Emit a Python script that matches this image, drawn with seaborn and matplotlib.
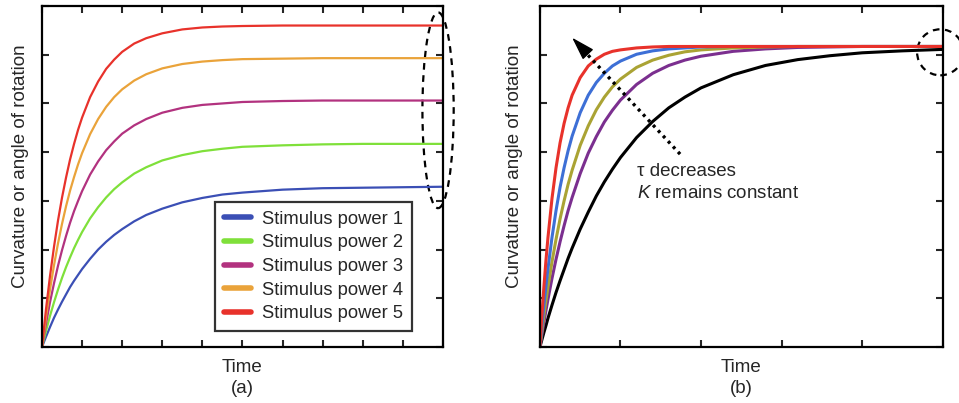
import matplotlib
matplotlib.use("Agg")
import matplotlib.pyplot as plt
from matplotlib.patches import Ellipse
import seaborn as sns

# ---- panel (a): curves for five stimulus powers ----
time_a = [0, 0.1, 0.2, 0.3, 0.4, 0.5, 0.6, 0.7, 0.8, 0.9, 1.0, 1.2, 1.4, 1.6, 1.8, 2.0,
          2.3, 2.6, 3.0, 3.5, 4.0, 4.5, 5.0, 6.0, 7.0, 8.0, 9.0, 10.0]
power_1 = [0, 0.21, 0.41, 0.60, 0.77, 0.93, 1.08, 1.23, 1.36, 1.48, 1.60, 1.81, 2.00, 2.16, 2.30, 2.42,
           2.58, 2.71, 2.84, 2.97, 3.06, 3.13, 3.17, 3.23, 3.26, 3.27, 3.28, 3.29]
power_2 = [0, 0.33, 0.64, 0.92, 1.18, 1.42, 1.64, 1.84, 2.03, 2.20, 2.36, 2.64, 2.87, 3.07, 3.24, 3.38,
           3.56, 3.69, 3.83, 3.94, 4.02, 4.07, 4.11, 4.14, 4.16, 4.17, 4.17, 4.17]
power_3 = [0, 0.48, 0.92, 1.31, 1.67, 1.99, 2.28, 2.55, 2.79, 3.00, 3.20, 3.54, 3.81, 4.04, 4.22, 4.38,
           4.55, 4.68, 4.81, 4.91, 4.97, 5.00, 5.03, 5.05, 5.06, 5.06, 5.06, 5.06]
power_4 = [0, 0.62, 1.18, 1.68, 2.13, 2.53, 2.89, 3.21, 3.49, 3.75, 3.98, 4.37, 4.68, 4.93, 5.13, 5.29,
           5.47, 5.60, 5.72, 5.81, 5.86, 5.89, 5.91, 5.92, 5.93, 5.93, 5.93, 5.93]
power_5 = [0, 0.78, 1.46, 2.06, 2.60, 3.07, 3.48, 3.85, 4.17, 4.46, 4.71, 5.13, 5.45, 5.71, 5.90, 6.06,
           6.23, 6.34, 6.44, 6.52, 6.56, 6.58, 6.59, 6.60, 6.60, 6.60, 6.60, 6.60]
labels_a = ["Stimulus power 1", "Stimulus power 2", "Stimulus power 3",
            "Stimulus power 4", "Stimulus power 5"]
colors_a = ["#3b4fb5", "#7fe03a", "#b2327f", "#eaa33a", "#e8322b"]

# ---- panel (b): same K, tau decreasing ----
time_b = [0, 0.025, 0.05, 0.075, 0.1, 0.15, 0.2, 0.25, 0.3, 0.35, 0.4, 0.5, 0.6, 0.7, 0.8, 0.9, 1.0,
          1.2, 1.4, 1.6, 1.8, 2.0, 2.4, 2.8, 3.2, 3.6, 4.0, 4.5, 5.0]
curve_black = [0, 0.15, 0.30, 0.44, 0.59, 0.86, 1.12, 1.36, 1.59, 1.82, 2.03, 2.42, 2.77, 3.10, 3.39, 3.65, 3.89,
               4.30, 4.63, 4.91, 5.13, 5.32, 5.59, 5.78, 5.90, 5.98, 6.04, 6.08, 6.11]
curve_purple = [0, 0.26, 0.51, 0.75, 0.98, 1.41, 1.80, 2.16, 2.49, 2.80, 3.07, 3.56, 3.98, 4.32, 4.62, 4.86, 5.07,
                5.39, 5.62, 5.78, 5.89, 5.97, 6.07, 6.12, 6.15, 6.16, 6.17, 6.17, 6.17]
curve_olive = [0, 0.33, 0.65, 0.95, 1.23, 1.75, 2.21, 2.63, 3.00, 3.34, 3.63, 4.14, 4.54, 4.87, 5.13, 5.34, 5.50,
               5.74, 5.89, 5.99, 6.06, 6.10, 6.14, 6.16, 6.17, 6.17, 6.17, 6.17, 6.17]
curve_blue = [0, 0.45, 0.87, 1.25, 1.61, 2.25, 2.80, 3.28, 3.68, 4.03, 4.33, 4.81, 5.17, 5.43, 5.62, 5.77, 5.87,
              6.01, 6.08, 6.12, 6.14, 6.16, 6.17, 6.17, 6.17, 6.17, 6.17, 6.17, 6.17]
curve_red = [0, 0.66, 1.25, 1.78, 2.25, 3.05, 3.68, 4.19, 4.59, 4.91, 5.17, 5.53, 5.77, 5.91, 6.01, 6.07, 6.10,
             6.14, 6.16, 6.17, 6.17, 6.17, 6.17, 6.17, 6.17, 6.17, 6.17, 6.17, 6.17]
colors_b = ["black", "#7b2f8f", "#aaa334", "#3d6fd6", "#e8322b"]

sns.set_style("white")
plt.rcParams["font.family"] = ["Liberation Sans", "DejaVu Sans"]
plt.rcParams["mathtext.fontset"] = "custom"
plt.rcParams["mathtext.rm"] = "Liberation Sans"
plt.rcParams["mathtext.it"] = "Liberation Sans:italic"
FS = 13.5

fig = plt.figure(figsize=(9.59, 4.03), dpi=100)
ax_a = fig.add_axes([0.0438, 0.139, 0.418, 0.846])
ax_b = fig.add_axes([0.563, 0.139, 0.420, 0.846])


def style_axes(ax, xmax, label_x, panel):
    ax.set_xlim(0, xmax)
    ax.set_ylim(0, 7)
    ax.set_xticks(range(xmax + 1))
    ax.set_yticks(range(8))
    ax.tick_params(direction="in", length=5, width=1.5, top=True, right=True,
                   bottom=True, left=True, labelbottom=False, labelleft=False)
    for sp in ax.spines.values():
        sp.set_visible(True)
        sp.set_color("black")
        sp.set_linewidth(1.6)
    ax.set_ylabel("Curvature or angle of rotation", fontsize=FS)
    ax.yaxis.set_label_coords(label_x, 0.53)
    ax.set_xlabel(f"Time\n({panel})", fontsize=FS, linespacing=1.3, labelpad=9)


# panel (a)
for vals, lab, col in zip([power_1, power_2, power_3, power_4, power_5], labels_a, colors_a):
    sns.lineplot(x=time_a, y=vals, ax=ax_a, color=col, linewidth=1.6, label=lab)
style_axes(ax_a, 10, -0.033, "a")
leg = ax_a.legend(loc="lower right", bbox_to_anchor=(0.924, 0.046), fontsize=13.2,
                  frameon=True, fancybox=False, handlelength=1.5, handletextpad=0.6,
                  borderpad=0.5, labelspacing=0.36, borderaxespad=0)
leg.get_frame().set_edgecolor("black")
leg.get_frame().set_linewidth(1.6)
for line in leg.get_lines():
    line.set_linewidth(4)
ax_a.add_patch(Ellipse((9.88, 4.86), 0.78, 4.02, fill=False, linestyle=(0, (3, 2.5)),
                       linewidth=1.6, edgecolor="black", clip_on=False))

# panel (b)
for vals, col in zip([curve_black, curve_purple, curve_olive, curve_blue, curve_red], colors_b):
    sns.lineplot(x=time_b, y=vals, ax=ax_b, color=col, linewidth=2.2)
style_axes(ax_b, 5, -0.041, "b")
ax_b.add_patch(Ellipse((4.97, 6.05), 0.575, 0.945, fill=False, linestyle=(0, (3, 2.5)),
                       linewidth=1.6, edgecolor="black", clip_on=False))
# dotted arrow shaft + solid head
ax_b.plot([1.74, 0.57], [3.96, 6.04], color="black", linewidth=2.4, linestyle=(0, (0.9, 1.3)))
ax_b.annotate("", xy=(0.40, 6.35), xytext=(0.59, 6.02),
              arrowprops=dict(arrowstyle="-|>,head_length=1.45,head_width=0.45", color="black",
                              linewidth=1.0, mutation_scale=10, shrinkA=0, shrinkB=0))
ax_b.text(1.21, 3.61, "\u03c4 decreases", fontsize=FS, va="center", ha="left")
ax_b.text(1.21, 3.16, "$K$ remains constant", fontsize=FS, va="center", ha="left")

fig.savefig("out.png", dpi=100)
